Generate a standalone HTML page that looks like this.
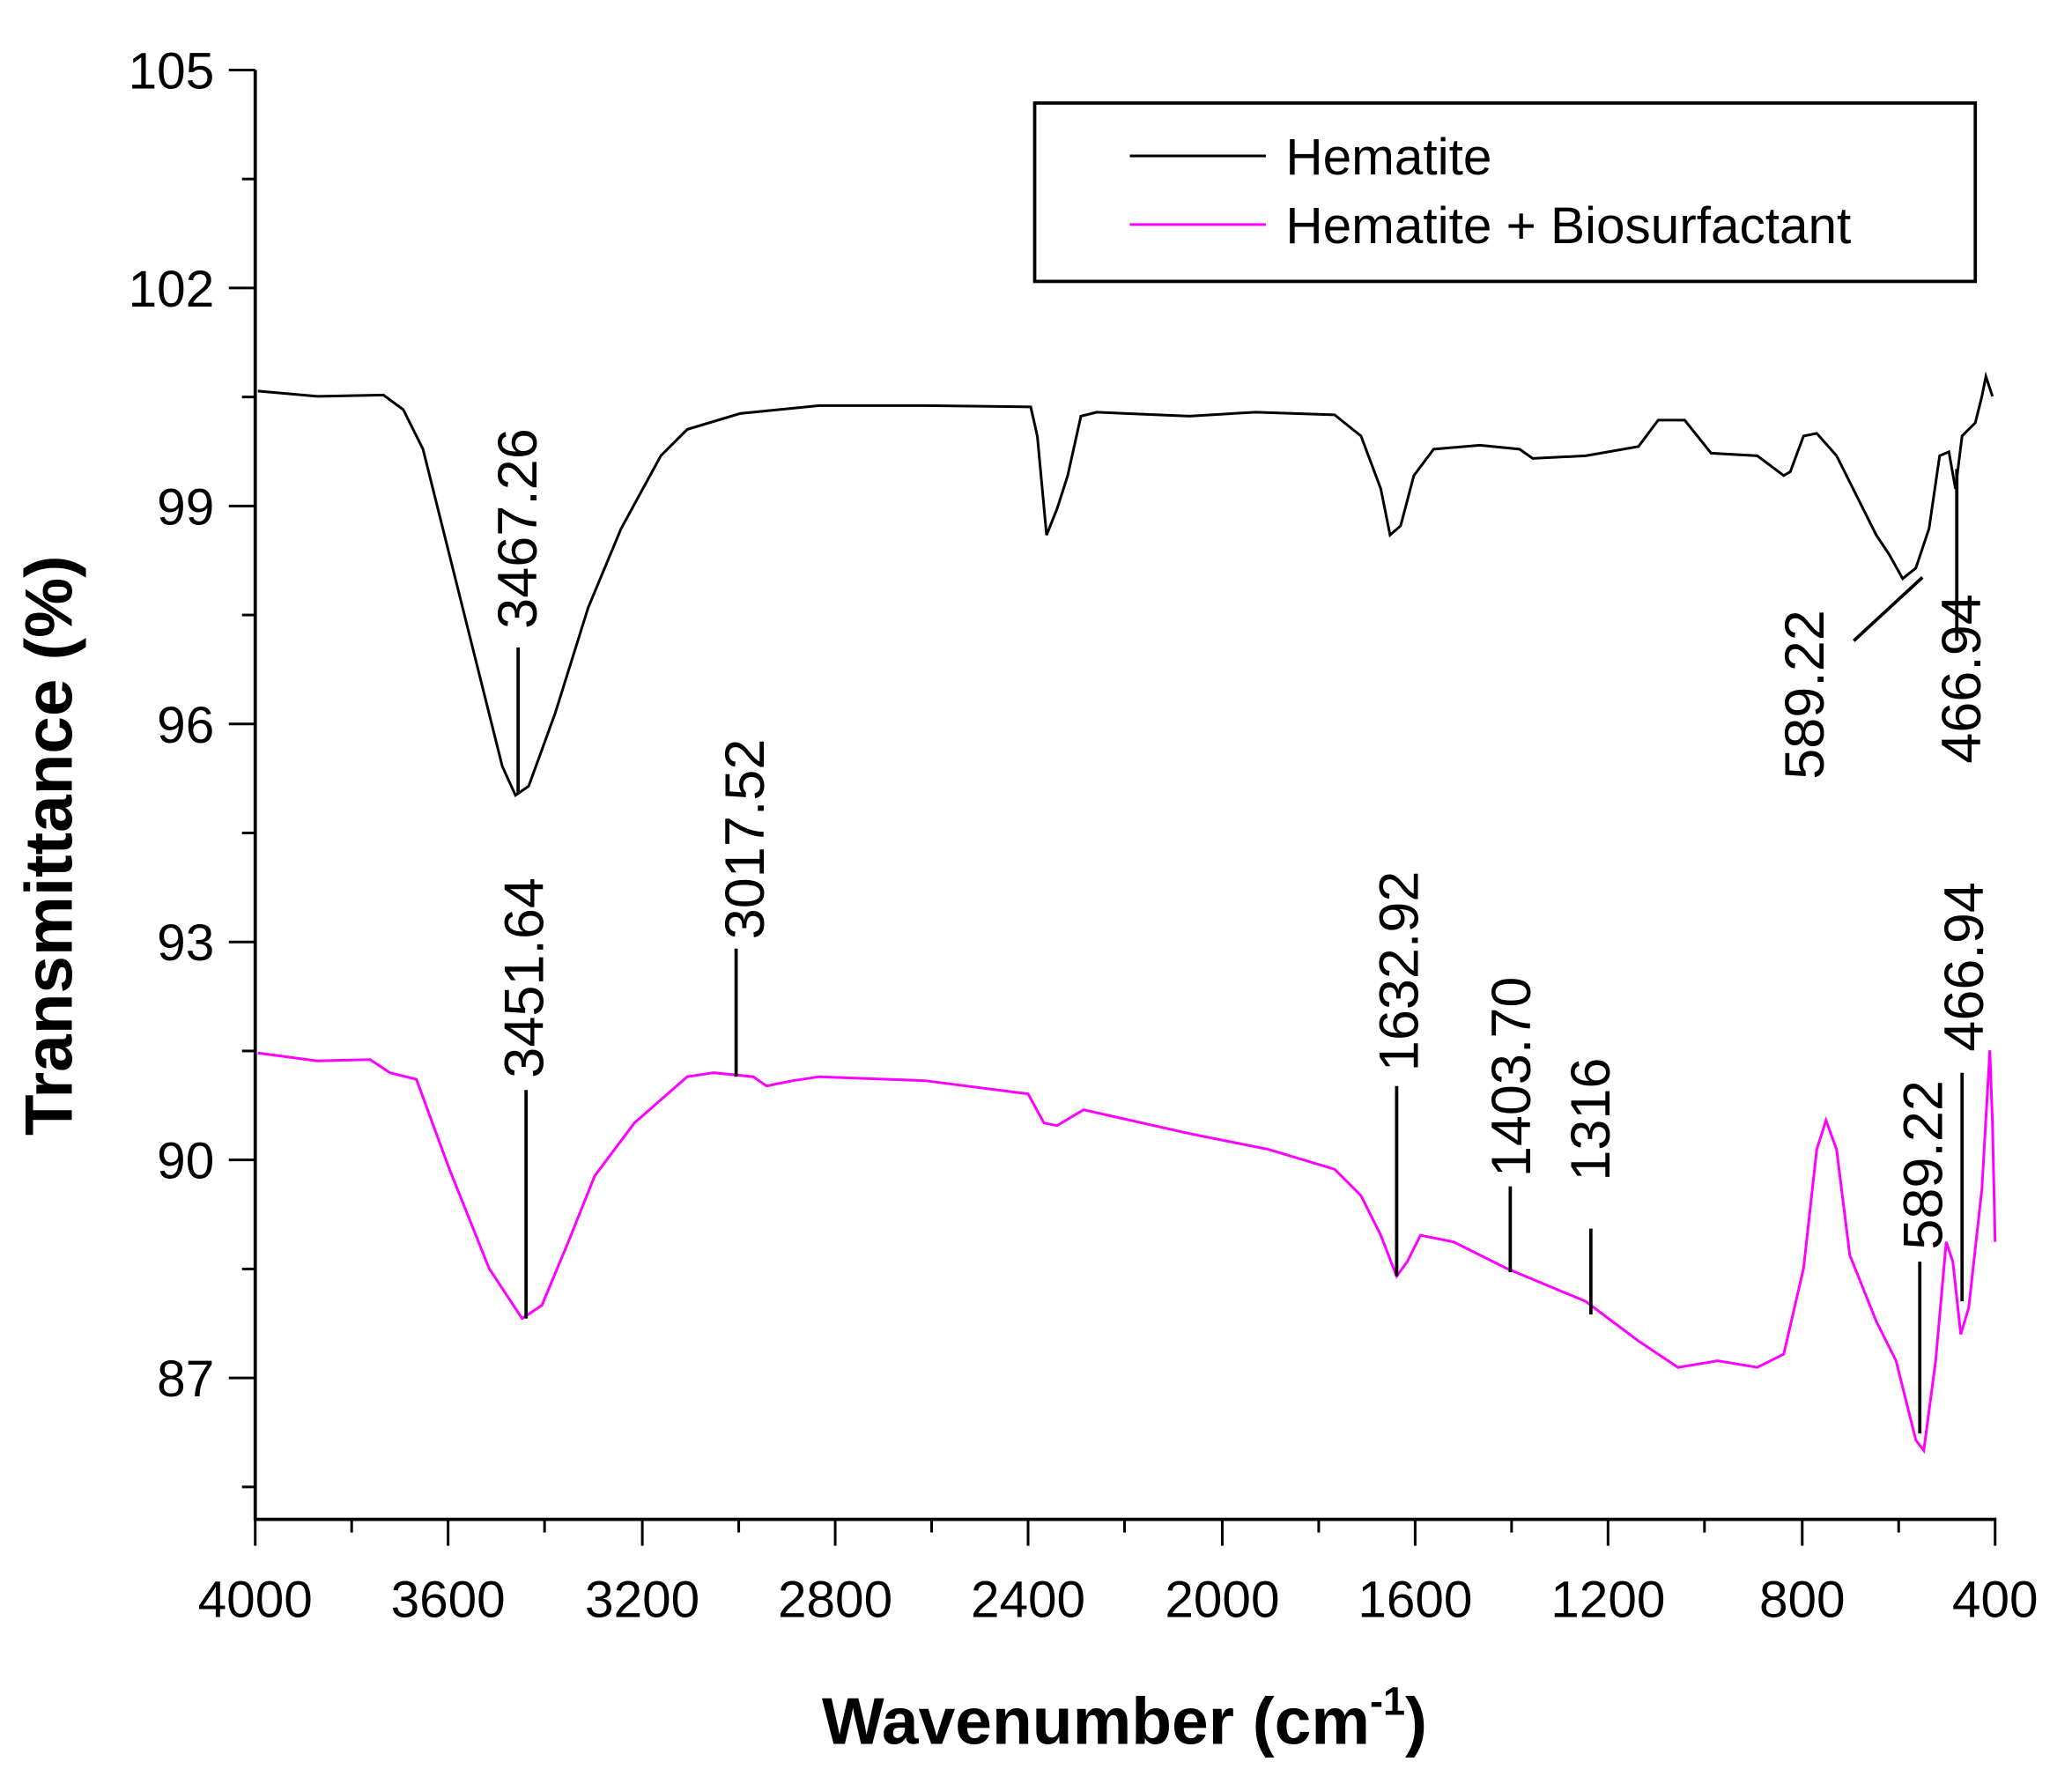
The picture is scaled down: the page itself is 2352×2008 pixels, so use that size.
<!DOCTYPE html>
<html><head><meta charset="utf-8"><style>html,body{margin:0;padding:0;background:#fff}svg{display:block}</style></head>
<body>
<svg width="2352" height="2008" viewBox="0 0 1568 1339" xmlns="http://www.w3.org/2000/svg" font-family="Liberation Sans, sans-serif">
<rect width="1568" height="1339" fill="#fff"/>
<g stroke="#000" stroke-width="2.5" fill="none">
<line x1="193" y1="53" x2="193" y2="1151"/>
<line x1="192" y1="1150" x2="1511" y2="1150"/>
</g>
<g stroke="#000" stroke-width="2">
<line x1="173" y1="53" x2="193" y2="53"/><line x1="173" y1="218" x2="193" y2="218"/><line x1="173" y1="383" x2="193" y2="383"/><line x1="173" y1="548" x2="193" y2="548"/><line x1="173" y1="713" x2="193" y2="713"/><line x1="173" y1="878" x2="193" y2="878"/><line x1="173" y1="1043" x2="193" y2="1043"/>
<line x1="183" y1="135.5" x2="193" y2="135.5"/><line x1="183" y1="300.5" x2="193" y2="300.5"/><line x1="183" y1="465.5" x2="193" y2="465.5"/><line x1="183" y1="630.5" x2="193" y2="630.5"/><line x1="183" y1="795.5" x2="193" y2="795.5"/><line x1="183" y1="960.5" x2="193" y2="960.5"/><line x1="183" y1="1125.5" x2="193" y2="1125.5"/>
<line x1="193" y1="1150" x2="193" y2="1170"/><line x1="339" y1="1150" x2="339" y2="1170"/><line x1="486" y1="1150" x2="486" y2="1170"/><line x1="632" y1="1150" x2="632" y2="1170"/><line x1="778" y1="1150" x2="778" y2="1170"/><line x1="925" y1="1150" x2="925" y2="1170"/><line x1="1071" y1="1150" x2="1071" y2="1170"/><line x1="1217" y1="1150" x2="1217" y2="1170"/><line x1="1364" y1="1150" x2="1364" y2="1170"/><line x1="1510" y1="1150" x2="1510" y2="1170"/>
<line x1="266" y1="1150" x2="266" y2="1160"/><line x1="412" y1="1150" x2="412" y2="1160"/><line x1="559" y1="1150" x2="559" y2="1160"/><line x1="705" y1="1150" x2="705" y2="1160"/><line x1="851" y1="1150" x2="851" y2="1160"/><line x1="998" y1="1150" x2="998" y2="1160"/><line x1="1144" y1="1150" x2="1144" y2="1160"/><line x1="1290" y1="1150" x2="1290" y2="1160"/><line x1="1437" y1="1150" x2="1437" y2="1160"/>
</g>
<g font-size="39" text-anchor="end" fill="#000">
<text x="162" y="67">105</text><text x="162" y="232">102</text><text x="162" y="397">99</text><text x="162" y="562">96</text><text x="162" y="727">93</text><text x="162" y="892">90</text><text x="162" y="1057">87</text>
</g>
<g font-size="39" text-anchor="middle" fill="#000">
<text x="193" y="1224">4000</text><text x="339" y="1224">3600</text><text x="486" y="1224">3200</text><text x="632" y="1224">2800</text><text x="778" y="1224">2400</text><text x="925" y="1224">2000</text><text x="1071" y="1224">1600</text><text x="1217" y="1224">1200</text><text x="1364" y="1224">800</text><text x="1510" y="1224">400</text>
</g>
<text x="851" y="1320" font-size="50" font-weight="bold" text-anchor="middle">Wavenumber (cm<tspan font-size="30" dy="-22">-1</tspan><tspan dy="22">)</tspan></text>
<text transform="translate(54,640) rotate(-90)" font-size="51" font-weight="bold" text-anchor="middle">Transmittance (%)</text>
<polyline fill="none" stroke="#000" stroke-width="2" points="195,296 240,300 290,299 305,310 320,340 340,420 360,500 380,580 390,602 400,595 420,540 445,460 470,400 500,345 520,325 560,313 620,307 700,307 780,308 785,330 792,405 800,385 808,360 818,315 830,312 900,315 950,312 1010,314 1030,330 1045,370 1052,405 1060,398 1070,360 1085,340 1120,337 1150,340 1160,347 1200,345 1240,338 1255,318 1275,318 1295,343 1330,345 1350,360 1355,357 1365,330 1375,328 1390,345 1410,385 1420,405 1430,420 1440,438 1450,430 1460,400 1468,345 1475,342 1480,370 1485,330 1495,320 1500,300 1503,285 1508,300"/>
<polyline fill="none" stroke="#ff00ff" stroke-width="2" points="195,797 240,803 280,802 295,812 315,817 340,885 370,960 395,998 410,988 430,940 450,890 480,850 520,815 540,812 570,815 580,822 600,818 620,815 700,818 778,828 790,850 800,852 820,840 900,858 960,870 1010,885 1030,905 1045,935 1057,966 1065,955 1075,935 1100,940 1140,960 1200,985 1240,1015 1270,1035 1300,1030 1330,1035 1350,1025 1365,960 1375,870 1382,848 1390,870 1400,950 1420,1000 1435,1030 1450,1090 1456,1098 1465,1030 1473,940 1478,955 1484,1010 1490,990 1500,900 1506,795 1508,850 1510,940"/>
<g stroke="#000" stroke-width="2.5">
<line x1="392" y1="490" x2="392" y2="600"/>
<line x1="1403" y1="485" x2="1455" y2="437"/>
<line x1="1481" y1="355" x2="1481" y2="485"/>
<line x1="398" y1="825" x2="398" y2="998"/>
<line x1="557" y1="718" x2="557" y2="815"/>
<line x1="1057" y1="822" x2="1057" y2="966"/>
<line x1="1143" y1="898" x2="1143" y2="963"/>
<line x1="1204" y1="930" x2="1204" y2="995"/>
<line x1="1453" y1="955" x2="1453" y2="1085"/>
<line x1="1485" y1="812" x2="1485" y2="985"/>
</g>
<g font-size="42" fill="#000">
<text transform="translate(406,476) rotate(-90)">3467.26</text>
<text transform="translate(1380,590) rotate(-90)">589.22</text>
<text transform="translate(1499,578) rotate(-90)">466.94</text>
<text transform="translate(411,816) rotate(-90)">3451.64</text>
<text transform="translate(578,711) rotate(-90)">3017.52</text>
<text transform="translate(1073,811) rotate(-90)">1632.92</text>
<text transform="translate(1158,891) rotate(-90)">1403.70</text>
<text transform="translate(1218,894) rotate(-90)">1316</text>
<text transform="translate(1470,946) rotate(-90)">589.22</text>
<text transform="translate(1501,796) rotate(-90)">466.94</text>
</g>
<rect x="783" y="78" width="712" height="135" fill="#fff" stroke="#000" stroke-width="2.5"/>
<line x1="855" y1="118" x2="958" y2="118" stroke="#000" stroke-width="2"/>
<line x1="855" y1="170" x2="958" y2="170" stroke="#ff00ff" stroke-width="2"/>
<text x="973" y="132" font-size="39">Hematite</text>
<text x="973" y="184" font-size="39">Hematite + Biosurfactant</text>
</svg>
</body></html>
